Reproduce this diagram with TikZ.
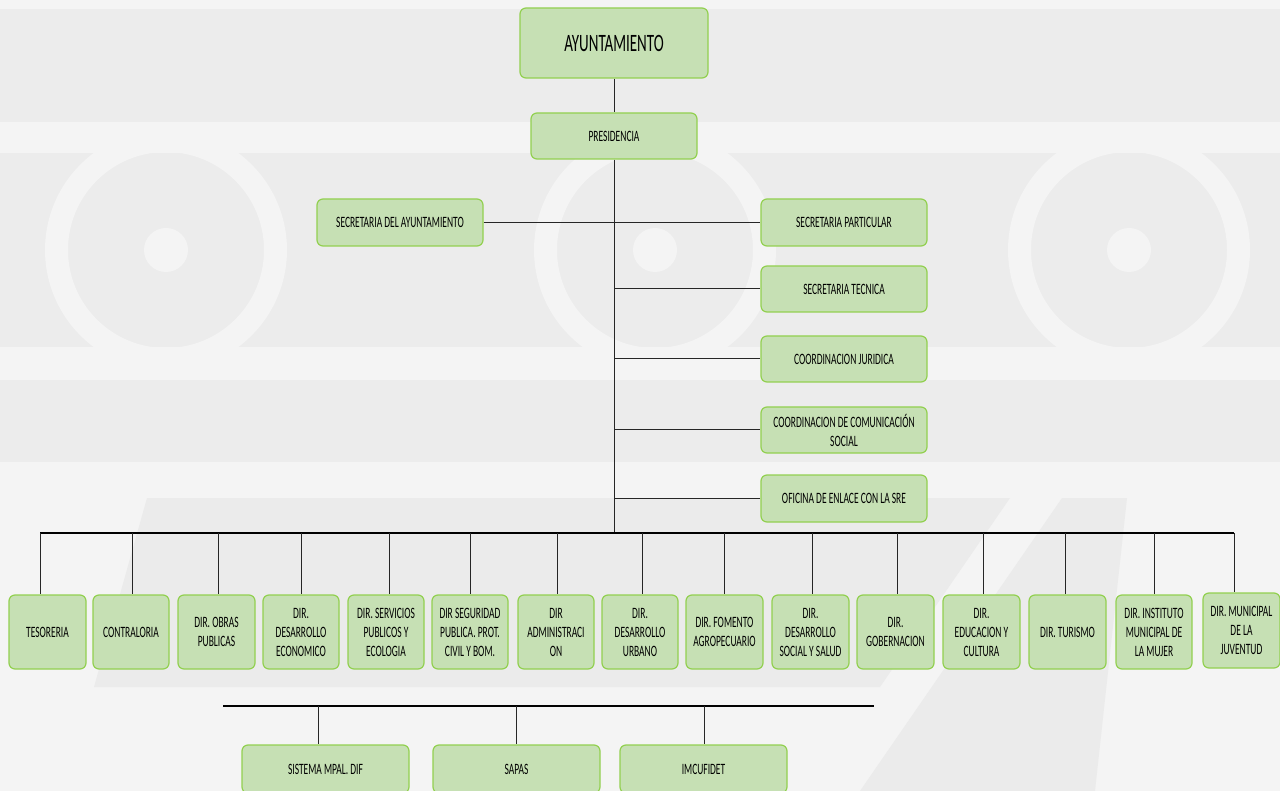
\documentclass[tikz,border=0pt]{standalone}
\usepackage{fontspec}
\setmainfont{Carlito}[FakeStretch=0.6]
\usetikzlibrary{calc}
\definecolor{bgA}{HTML}{ECECEC}
\definecolor{bgL}{HTML}{F4F4F4}
\definecolor{bgD}{HTML}{EBEBEB}
\definecolor{boxfill}{HTML}{C6E0B4}
\definecolor{boxline}{HTML}{92D050}
\definecolor{wirecol}{HTML}{262626}
\newcommand\orgbox[6]{\node[unit, minimum width={(#4-#2)*1pt}, minimum height={(#5-#3)*1pt}] (#1) at ({(#2+#4)/2},{(#3+#5)/2}) {#6};}
\begin{document}
\begin{tikzpicture}[x=1pt,y=-1pt,
  unit/.style={draw=boxline, fill=boxfill, line width=1.2pt, rounded corners=6pt, inner sep=0pt, align=center, font=\fontsize{15.8}{19}\selectfont, text=black},
  wire/.style={draw=wirecol, line width=1pt},
  bus/.style={draw=black, line width=1.6pt}]
\useasboundingbox (0,0) rectangle (1280,791);
% background watermark
\fill[bgA] (0,0) rectangle (1280,791);
\fill[bgL] (0,0) rectangle (1280,9);
\fill[bgL] (0,122) rectangle (1280,153);
\fill[bgL] (0,347) rectangle (1280,380);
\fill[bgL] (0,462) rectangle (1280,791);
\foreach \cx in {166,655,1129}{
  \draw[bgL, line width=23pt] (\cx,250) circle[radius=109.5];
  \fill[bgL] (\cx,250) circle[radius=22];
}
\fill[bgD] (147,498) -- (1010,498) -- (880,687) -- (94,687) -- cycle;
\fill[bgD] (1062,498) -- (1127,498) -- (1095,791) -- (860,791) -- cycle;

% top part
\orgbox{ayun}{520}{8}{708}{78}{\fontsize{25}{28}\selectfont AYUNTAMIENTO}
\orgbox{pres}{531}{113}{697}{159}{PRESIDENCIA}
\orgbox{secayun}{317}{199}{483}{246}{SECRETARIA DEL AYUNTAMIENTO}
\orgbox{secpart}{761}{199}{927}{246}{SECRETARIA PARTICULAR}
\orgbox{sectec}{761}{266}{927}{312}{SECRETARIA TECNICA}
\orgbox{coordjur}{761}{336}{927}{382}{COORDINACION JURIDICA}
\orgbox{coordcom}{761}{407}{927}{453}{COORDINACION DE COMUNICACIÓN\\SOCIAL}
\orgbox{oficina}{761}{475}{927}{522}{OFICINA DE ENLACE CON LA SRE}

% directorate row
\orgbox{b1}{9}{595}{86}{669}{TESORERIA}
\orgbox{b2}{93}{595}{169}{669}{CONTRALORIA}
\orgbox{b3}{178}{595}{255}{669}{DIR. OBRAS\\PUBLICAS}
\orgbox{b4}{263}{595}{339}{669}{DIR.\\DESARROLLO\\ECONOMICO}
\orgbox{b5}{348}{595}{424}{669}{DIR. SERVICIOS\\PUBLICOS Y\\ECOLOGIA}
\orgbox{b6}{432}{595}{508}{669}{DIR SEGURIDAD\\PUBLICA. PROT.\\CIVIL Y BOM.}
\orgbox{b7}{518}{595}{594}{669}{DIR\\ADMINISTRACI\\ON}
\orgbox{b8}{602}{595}{678}{669}{DIR.\\DESARROLLO\\URBANO}
\orgbox{b9}{686}{595}{763}{669}{DIR. FOMENTO\\AGROPECUARIO}
\orgbox{b10}{772}{595}{849}{669}{DIR.\\DESARROLLO\\SOCIAL Y SALUD}
\orgbox{b11}{857}{595}{934}{669}{DIR.\\GOBERNACION}
\orgbox{b12}{943}{595}{1020}{669}{DIR.\\EDUCACION Y\\CULTURA}
\orgbox{b13}{1029}{595}{1106}{669}{DIR. TURISMO}
\orgbox{b14}{1116}{595}{1192}{669}{DIR. INSTITUTO\\MUNICIPAL DE\\LA MUJER}
\orgbox{b15}{1203}{593}{1280}{668}{DIR. MUNICIPAL\\DE LA\\JUVENTUD}

% lower group
\orgbox{c1}{242}{745}{409}{793}{SISTEMA MPAL. DIF}
\orgbox{c2}{433}{745}{600}{793}{SAPAS}
\orgbox{c3}{620}{745}{787}{793}{IMCUFIDET}

% connectors
\draw[wire] (ayun.south) -- (pres.north);
\coordinate (tb) at (613,533);
\draw[wire] (pres.south) -- (pres.south |- tb);
\draw[wire] (secayun.east) -- (secpart.west);
\foreach \n in {sectec,coordjur,coordcom,oficina}{
  \draw[wire] (pres.south |- \n.west) -- (\n.west);
}
\coordinate (busL) at (40,533);
\coordinate (busR) at (1234,533);
\draw[bus] (busL) -- (busR);
\foreach \i/\x in {1/40,2/132,3/218,4/301,5/389,6/470,7/557,8/642,9/724,10/812,11/897,12/983,13/1065,14/1154,15/1234}{
  \coordinate (d\i) at (\x,533);
  \draw[wire] (d\i) -- (d\i |- b\i.north);
}
\coordinate (bus2L) at (223,706);
\coordinate (bus2R) at (874,706);
\draw[bus] (bus2L) -- (bus2R);
\foreach \i/\x in {1/318,2/516,3/704}{
  \coordinate (e\i) at (\x,706);
  \draw[wire] (e\i) -- (e\i |- c\i.north);
}
\end{tikzpicture}
\end{document}
